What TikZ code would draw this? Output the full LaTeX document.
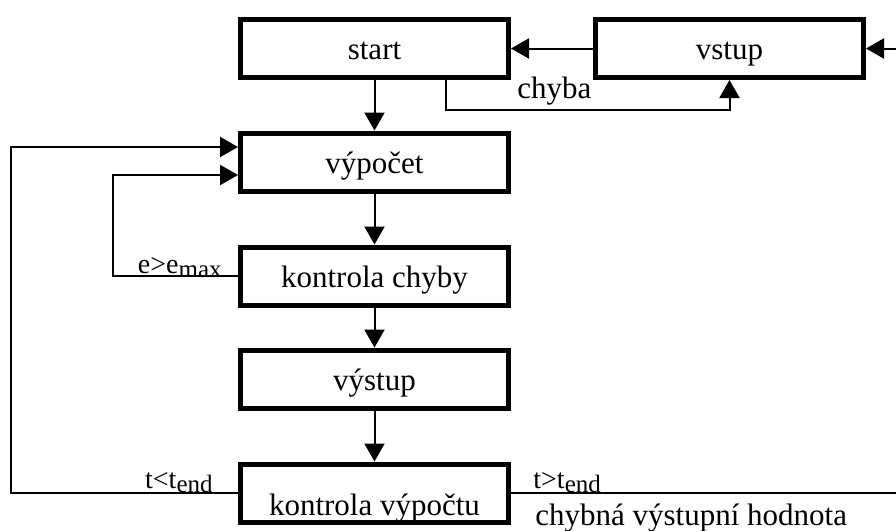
\documentclass[tikz,border=0pt]{standalone}
\usepackage{fontspec}
\setmainfont{Liberation Serif}
\usetikzlibrary{positioning}
\usetikzlibrary{arrows.meta}
\tikzset{
    box/.style = {rectangle, line width=2.5pt, draw=black, minimum width=134pt, minimum height=29pt, inner sep=0pt, font=\fontsize{15.5}{18}\selectfont, text height=13pt, text depth=2pt},
    lbl/.style = {inner sep=0pt, font=\fontsize{15.5}{18}\selectfont},
    cond/.style = {inner sep=0pt, font=\fontsize{14}{16}\selectfont},
    edgen/.style = {-{Triangle[length=9pt,width=10pt]}, line width=1pt},
    edgel/.style = {line width=1pt}, % no tip
}
\newcommand{\Sub}[1]{\raisebox{-2pt}{\fontsize{12.5}{12.5}\selectfont #1}}

\begin{document}
\begin{tikzpicture}[x=0.5pt,y=-0.5pt]
\clip (0,0) rectangle (896,531);
\node[box] (start) at (374.5,48.5) {start};
\node[box] (vstup) at (729.5,48.5) {vstup};
\node[box] (vyp) at (374.5,162) {výpočet};
\node[box] (kchyba) at (374.5,276) {kontrola chyby};
\node[box] (vystup) at (374.5,379) {výstup};
\node[box, text height=24pt, text depth=2pt] (kvyp) at (374.5,493) {kontrola výpočtu};
\coordinate (inp) at (896,0);
\coordinate (out) at (896,0);
\coordinate (outer) at (11,0);
\coordinate (inner) at (113,0);
%
\node[lbl, anchor=base west] (chyba) at (517,98) {chyba};
\node[cond, anchor=base east] (emax) at (222,273) {e>e\Sub{max}};
\node[cond, anchor=base east] (tless) at (213,488) {t<t\Sub{end}};
\node[cond, anchor=base west] (tmore) at (533,488) {t>t\Sub{end}};
\node[lbl, anchor=base west] (chybna) at (535,525) {chybná výstupní hodnota};
%
\draw[edgen] (vstup.east -| inp) -- (vstup.east);
\draw[edgen] (vstup) -- (start);
\draw[edgen] (start) -- (vyp);
\draw[edgen] (vyp) -- (kchyba);
\draw[edgen] (kchyba) -- (vystup);
\draw[edgen] (vystup) -- (kvyp);
\draw[edgen] ([shift={(71.5,0)}]start.south) -- ++(0,30) -| (vstup.south);
\draw[edgen] (kchyba.west) -- (kchyba.west -| inner) |- ([shift={(0,13)}]vyp.west);
\draw[edgen] (kvyp.west) -- (kvyp.west -| outer) |- ([shift={(0,-15)}]vyp.west);
\draw[edgel] (kvyp.east) -- (kvyp.east -| out);
\end{tikzpicture}
\end{document}
